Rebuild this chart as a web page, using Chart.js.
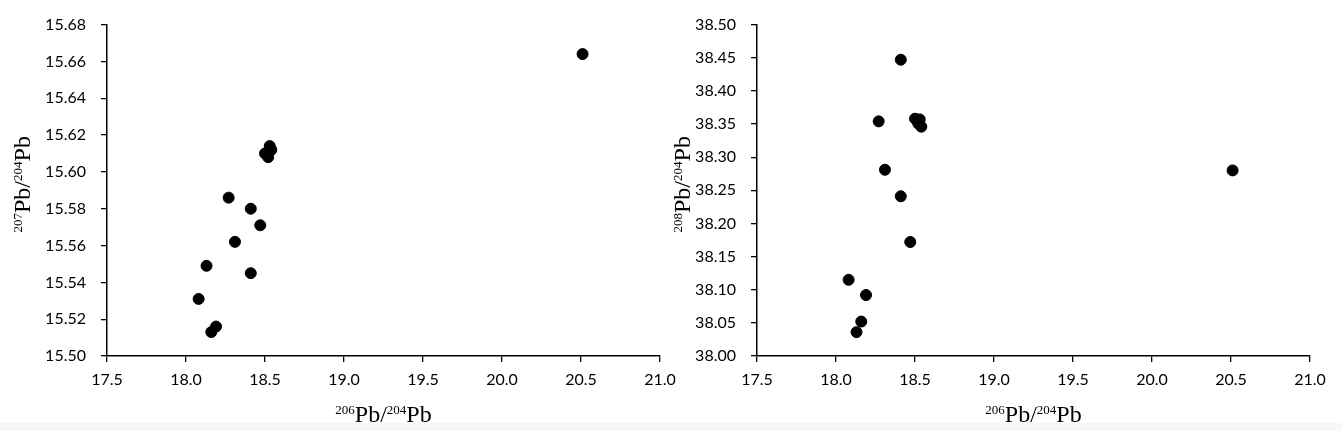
<!DOCTYPE html>
<html>
<head>
<meta charset="utf-8">
<script src="https://cdn.jsdelivr.net/npm/chart.js@4"></script>
<style>
  html, body { margin: 0; padding: 0; }
  body {
    width: 1342px; height: 431px; overflow: hidden; position: relative;
    background: linear-gradient(#ffffff 0, #ffffff 423px, #f6f7f8 423px);
  }
  .wrap { position: absolute; top: 0; height: 431px; }
  #left { left: 0; width: 690px; }
  #right { left: 660px; width: 682px; }
</style>
</head>
<body>
<div class="wrap" id="left"><canvas id="chart207"></canvas></div>
<div class="wrap" id="right"><canvas id="chart208"></canvas></div>
<script>
// 206Pb/204Pb, shared by both panels
const pb206 = [20.51, 18.08, 18.13, 18.16, 18.19, 18.27, 18.31, 18.41, 18.41, 18.47, 18.50, 18.53, 18.52, 18.54];
const pb207 = [15.664, 15.531, 15.549, 15.513, 15.516, 15.586, 15.562, 15.580, 15.545, 15.571, 15.610, 15.614, 15.608, 15.612];
const pb208 = [38.280, 38.115, 38.036, 38.052, 38.092, 38.354, 38.281, 38.447, 38.241, 38.172, 38.358, 38.357, 38.351, 38.346];

const xTicks = [17.5, 18.0, 18.5, 19.0, 19.5, 20.0, 20.5, 21.0];
const y207Ticks = [15.50, 15.52, 15.54, 15.56, 15.58, 15.60, 15.62, 15.64, 15.66, 15.68];
const y208Ticks = [38.00, 38.05, 38.10, 38.15, 38.20, 38.25, 38.30, 38.35, 38.40, 38.45, 38.50];

// axis titles: [text, superscript?]
const xTitle = [["206", true], ["Pb/", false], ["204", true], ["Pb", false]];
const y207Title = [["207", true], ["Pb/", false], ["204", true], ["Pb", false]];
const y208Title = [["208", true], ["Pb/", false], ["204", true], ["Pb", false]];

const tickFont = { family: "Lato, 'Open Sans', sans-serif", size: 16 };
const serif = "'Liberation Serif', 'DejaVu Serif', serif";

// draws a title with real superscripts, centred on cx, baseline at by
function drawSupText(ctx, parts, cx, by) {
  const fontFor = (sup) => (sup ? "13px " : "24px ") + serif;
  let total = 0;
  parts.forEach(([t, sup]) => { ctx.font = fontFor(sup); total += ctx.measureText(t).width; });
  let x = cx - total / 2;
  ctx.fillStyle = "#000";
  ctx.textAlign = "left";
  ctx.textBaseline = "alphabetic";
  parts.forEach(([t, sup]) => {
    ctx.font = fontFor(sup);
    ctx.fillText(t, x, sup ? by - 8 : by);
    x += ctx.measureText(t).width;
  });
}

const supTitles = {
  id: "supTitles",
  afterDraw(chart, args, opts) {
    const ctx = chart.ctx;
    const a = chart.chartArea;
    ctx.save();
    drawSupText(ctx, opts.x, (a.left + a.right) / 2, 422);
    ctx.translate(opts.yBase, (a.top + a.bottom) / 2 - 6);
    ctx.rotate(-Math.PI / 2);
    drawSupText(ctx, opts.y, 0, 0);
    ctx.restore();
  },
};

function makeChart(id, yVals, yTicks, yTitle, yWidth, padRight) {
  const points = pb206.map((x, i) => ({ x: x, y: yVals[i] }));
  return new Chart(document.getElementById(id), {
    type: "scatter",
    data: {
      datasets: [{
        data: points,
        backgroundColor: "#000",
        borderColor: "#000",
        pointRadius: 5.5,
        pointHoverRadius: 5.5,
      }],
    },
    plugins: [supTitles],
    options: {
      responsive: true,
      maintainAspectRatio: false,
      animation: false,
      layout: { padding: { top: 24, right: padRight, bottom: 0, left: 0 } },
      plugins: {
        legend: { display: false },
        tooltip: { enabled: false },
        supTitles: { x: xTitle, y: yTitle, yBase: 30 },
      },
      scales: {
        x: {
          type: "linear",
          min: xTicks[0],
          max: xTicks[xTicks.length - 1],
          afterBuildTicks: (s) => { s.ticks = xTicks.map((v) => ({ value: v })); },
          afterFit: (s) => { s.height = 75; },
          grid: { drawOnChartArea: false, drawTicks: true, tickLength: 6, color: "#000", lineWidth: 1.3 },
          border: { color: "#000", width: 1.5 },
          ticks: { color: "#000", font: tickFont, padding: 8, maxRotation: 0, callback: (v) => v.toFixed(1) },
        },
        y: {
          type: "linear",
          min: yTicks[0],
          max: yTicks[yTicks.length - 1],
          afterBuildTicks: (s) => { s.ticks = yTicks.map((v) => ({ value: v })); },
          afterFit: (s) => { s.width = yWidth; },
          grid: { drawOnChartArea: false, drawTicks: true, tickLength: 6, color: "#000", lineWidth: 1.3 },
          border: { color: "#000", width: 1.5 },
          ticks: { color: "#000", font: tickFont, padding: 15, callback: (v) => v.toFixed(2) },
        },
      },
    },
  });
}

makeChart("chart207", pb207, y207Ticks, y207Title, 107, 30);
makeChart("chart208", pb208, y208Ticks, y208Title, 97, 32);
</script>
</body>
</html>
